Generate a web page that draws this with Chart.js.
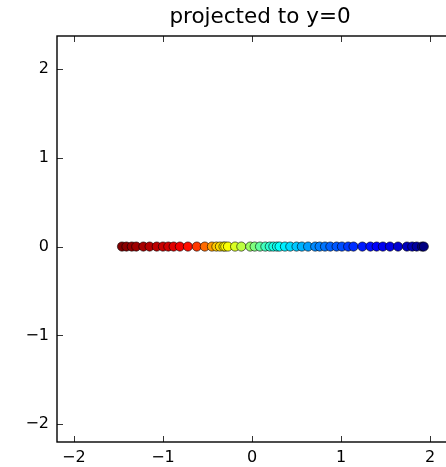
<!DOCTYPE html>
<html>
<head>
<meta charset="utf-8">
<script src="https://cdn.jsdelivr.net/npm/chart.js@4.4.1/dist/chart.umd.min.js"></script>
<style>
  html, body { margin: 0; padding: 0; background: #fff; overflow: hidden; }
  #wrap { width: 475px; height: 467px; }
</style>
</head>
<body>
<div id="wrap"><canvas id="projChart" width="475" height="467"></canvas></div>
<script>
// projected points: x position on the line y=0
const xValues = [
  -1.46, -1.41, -1.35, -1.30, -1.22, -1.15, -1.07, -1.00, -0.94, -0.88,
  -0.81, -0.72, -0.62, -0.53, -0.45, -0.40, -0.36, -0.32, -0.30, -0.27,
  -0.19, -0.12, -0.02, 0.03, 0.09, 0.15, 0.20, 0.24, 0.28, 0.31,
  0.37, 0.43, 0.50, 0.56, 0.63, 0.71, 0.76, 0.82, 0.88, 0.95,
  1.01, 1.08, 1.14, 1.24, 1.33, 1.40, 1.47, 1.55, 1.64, 1.74,
  1.80, 1.85, 1.91, 1.93
];

// colour value of each point (jet colormap, 0 = dark blue, 1 = dark red)
const colorValues = [
  1.00, 0.99, 0.98, 0.97, 0.96, 0.95, 0.94, 0.93, 0.92, 0.905,
  0.89, 0.86, 0.82, 0.77, 0.72, 0.68, 0.66, 0.64, 0.63, 0.62,
  0.59, 0.56, 0.53, 0.50, 0.47, 0.44, 0.42, 0.40, 0.39, 0.38,
  0.36, 0.34, 0.32, 0.30, 0.28, 0.26, 0.25, 0.24, 0.22, 0.21,
  0.20, 0.18, 0.17, 0.15, 0.14, 0.12, 0.11, 0.10, 0.08, 0.06,
  0.05, 0.03, 0.01, 0.00
];

const tickValues = [-2, -1, 0, 1, 2];
const titleText = 'projected to y=0';

function jet(v) {
  const clip = t => Math.max(0, Math.min(1, t));
  const r = clip(1.5 - Math.abs(4 * v - 3));
  const g = clip(1.5 - Math.abs(4 * v - 2));
  const b = clip(1.5 - Math.abs(4 * v - 1));
  return 'rgb(' + Math.round(r * 255) + ',' + Math.round(g * 255) + ',' + Math.round(b * 255) + ')';
}

const minus = v => String(v).replace('-', '\u2212');

// box round the axes with inward ticks on every side
const framePlugin = {
  id: 'frame',
  afterDraw(chart) {
    const ctx = chart.ctx;
    const a = chart.chartArea;
    const xs = chart.scales.x, ys = chart.scales.y;
    ctx.save();
    ctx.strokeStyle = '#000';
    ctx.lineWidth = 0.8;
    const len = 6;
    ctx.beginPath();
    tickValues.forEach(v => {
      const px = Math.round(xs.getPixelForValue(v)) + 0.5;
      ctx.moveTo(px, a.bottom); ctx.lineTo(px, a.bottom - len);
      ctx.moveTo(px, a.top); ctx.lineTo(px, a.top + len);
      const py = Math.round(ys.getPixelForValue(v)) + 0.5;
      ctx.moveTo(a.left, py); ctx.lineTo(a.left + len, py);
      ctx.moveTo(a.right, py); ctx.lineTo(a.right - len, py);
    });
    ctx.stroke();
    ctx.lineWidth = 1.4;
    ctx.strokeRect(a.left, a.top, a.right - a.left, a.bottom - a.top);
    ctx.restore();
  }
};

const ctx = document.getElementById('projChart').getContext('2d');
new Chart(ctx, {
  type: 'scatter',
  data: {
    datasets: [{
      data: xValues.map(x => ({ x: x, y: 0 })),
      backgroundColor: colorValues.map(jet),
      borderColor: 'rgba(0,0,0,0.85)',
      borderWidth: 0.7,
      pointRadius: 4.6,
      pointHoverRadius: 4.6
    }]
  },
  options: {
    responsive: false,
    animation: false,
    layout: { padding: { left: 0, right: 12, top: 0, bottom: 0 } },
    plugins: {
      legend: { display: false },
      tooltip: { enabled: false },
      title: {
        display: true,
        text: titleText,
        fullSize: false,
        color: '#000',
        font: { family: 'DejaVu Sans', size: 21.5, weight: 'normal', lineHeight: 1.2 },
        padding: { top: 5, bottom: 5.2 }
      }
    },
    scales: {
      x: {
        type: 'linear',
        min: -2.19,
        max: 2.37,
        afterFit: s => { s.height = 25; },
        afterBuildTicks: s => { s.ticks = tickValues.map(v => ({ value: v })); },
        grid: { display: false, drawTicks: false },
        border: { display: false },
        ticks: {
          padding: 6,
          color: '#000',
          font: { family: 'DejaVu Sans', size: 16 },
          callback: minus
        }
      },
      y: {
        type: 'linear',
        min: -2.2,
        max: 2.37,
        afterFit: s => { s.width = 57; },
        afterBuildTicks: s => { s.ticks = tickValues.map(v => ({ value: v })); },
        grid: { display: false, drawTicks: false },
        border: { display: false },
        ticks: {
          padding: 8,
          color: '#000',
          font: { family: 'DejaVu Sans', size: 16 },
          callback: minus
        }
      }
    }
  },
  plugins: [framePlugin]
});
</script>
</body>
</html>
